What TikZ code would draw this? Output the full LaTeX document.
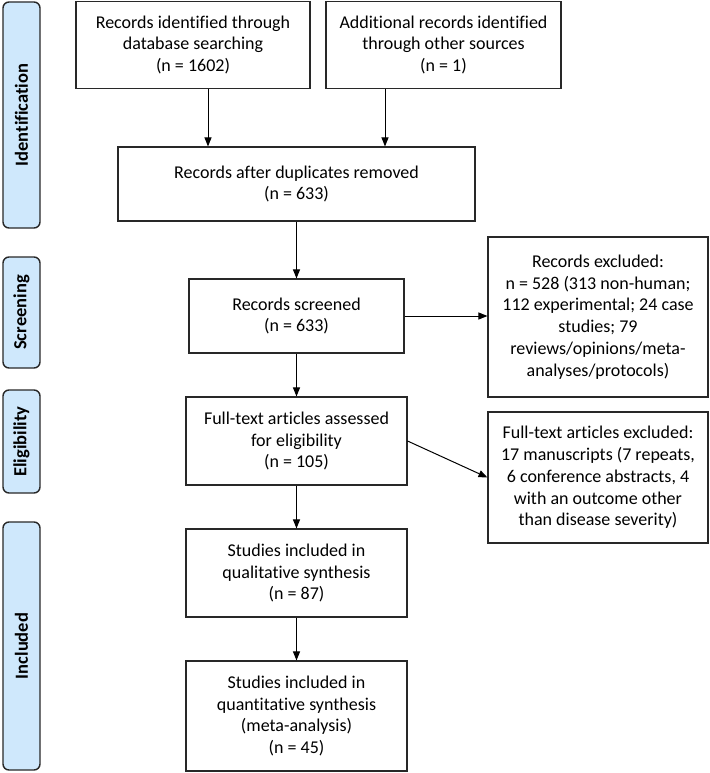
\documentclass[tikz,border=0pt]{standalone}
\usepackage{fontspec}
\setmainfont[Ligatures={NoCommon}]{Carlito}
\usetikzlibrary{arrows.meta}
\definecolor{pillblue}{RGB}{207,232,252}
\definecolor{edgegray}{RGB}{40,40,40}
\begin{document}
\begin{tikzpicture}[x=1pt,y=-1pt,
  box/.style={draw=edgegray,line width=1.1pt,fill=white,align=center,inner sep=2pt,
    font=\fontsize{18}{21.7}\selectfont},
  pill/.style={draw=edgegray,line width=1.4pt,fill=pillblue,rounded corners=6pt,rotate=90,
    minimum height=37pt,inner sep=0pt,font=\bfseries\fontsize{18.5}{20}\selectfont},
  arr/.style={draw=black,line width=1pt,-{Triangle[length=9pt,width=7pt]}}]
\useasboundingbox (0,0) rectangle (709,773);

% stage labels
\node[pill,minimum width=226pt] (pid) at (21.5,115) {Identification};
\node[pill,minimum width=111pt] (psc) at (21.5,312.5) {Screening};
\node[pill,minimum width=103pt] (pel) at (21.5,441.5) {Eligibility};
\node[pill,minimum width=248pt] (pin) at (21.5,646) {Included};

% boxes
\node[box,minimum width=234pt,minimum height=87pt] (b1) at (193,45)
  {Records identified through\\database searching\\(n = 1602)};
\node[box,minimum width=235pt,minimum height=87pt] (b2) at (443.5,45)
  {Additional records identified\\through other sources\\(n = 1)};
\node[box,minimum width=357pt,minimum height=74pt] (b3) at (296.5,184)
  {Records after duplicates removed\\(n = 633)};
\node[box,minimum width=215pt,minimum height=74pt] (scr) at (296.5,316)
  {Records screened\\(n = 633)};
\node[box,minimum width=220pt,minimum height=160pt] (ex1) at (598,317)
  {Records excluded:\\n = 528 (313 non-human;\\112 experimental; 24 case\\studies; 79\\reviews/opinions/meta-\\analyses/protocols)};
\node[box,minimum width=221pt,minimum height=88pt] (ft) at (296.5,441)
  {Full-text articles assessed\\for eligibility\\(n = 105)};
\node[box,minimum width=220pt,minimum height=131pt] (ex2) at (598,477.5)
  {Full-text articles excluded:\\17 manuscripts (7 repeats,\\6 conference abstracts, 4\\with an outcome other\\than disease severity)};
\node[box,minimum width=221pt,minimum height=88pt] (ql) at (296.5,573)
  {Studies included in\\qualitative synthesis\\(n = 87)};
\node[box,minimum width=221pt,minimum height=110pt] (qn) at (296.5,716)
  {Studies included in\\quantitative synthesis\\(meta-analysis)\\(n = 45)};

% connectors
\coordinate (xa) at (208,0);
\coordinate (xb) at (385,0);
\draw[arr] (b1.south -| xa) -- (b3.north -| xa);
\draw[arr] (b2.south -| xb) -- (b3.north -| xb);
\draw[arr] (b3.south) -- (scr.north);
\draw[arr] (scr.east) -- (scr.east -| ex1.west);
\draw[arr] (scr.south) -- (ft.north);
\draw[arr] (ft.east) -- (ex2.west);
\draw[arr] (ft.south) -- (ql.north);
\draw[arr] (ql.south) -- (qn.north);
\end{tikzpicture}
\end{document}
